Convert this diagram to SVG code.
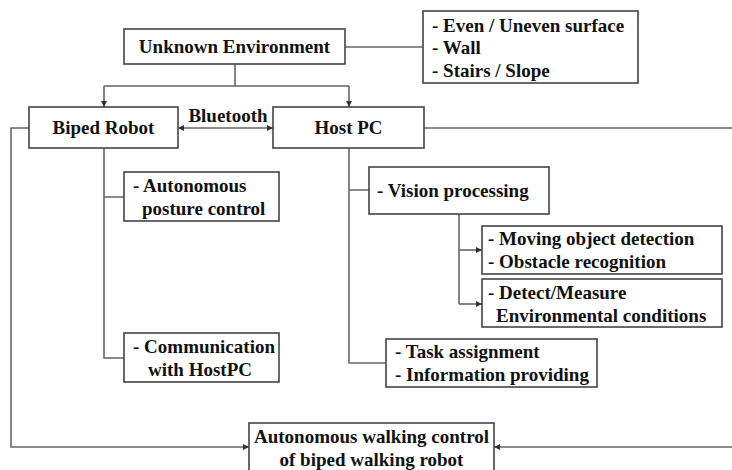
<svg xmlns="http://www.w3.org/2000/svg" width="732" height="470" viewBox="0 0 732 470">
<defs>
<marker id="arr" viewBox="0 0 8 8" refX="8" refY="4" markerWidth="6" markerHeight="6" orient="auto-start-reverse" markerUnits="userSpaceOnUse">
<path d="M0,0 L8,4 L0,8 Z" fill="#333"/>
</marker>
<style>
.box{fill:#fff;stroke:#444;stroke-width:1.6}
.ln{fill:none;stroke:#666;stroke-width:1.6}
.t{font-family:'Liberation Serif','Times New Roman','DejaVu Serif',serif;font-weight:bold;font-size:19px;fill:#111}
.c{text-anchor:middle}
</style>
</defs>
<rect width="732" height="470" fill="#fff"/>
<g id="connectors">
<path class="ln" d="M345,47 H423"/>
<path class="ln" d="M235,64 V86 M104,86 H349"/>
<path class="ln" d="M104,86 V107" marker-end="url(#arr)"/>
<path class="ln" d="M349,86 V107" marker-end="url(#arr)"/>
<path class="ln" d="M178,128 H273" marker-start="url(#arr)" marker-end="url(#arr)"/>
<path class="ln" d="M424,128 H732"/>
<path class="ln" d="M29,128 H11 V447 H249" marker-end="url(#arr)"/>
<path class="ln" d="M732,447 H494" marker-end="url(#arr)"/>
<path class="ln" d="M104,148 V358 H124 M104,197 H124"/>
<path class="ln" d="M349,148 V363 H386 M349,190 H369"/>
<path class="ln" d="M459,214 V304"/>
<path class="ln" d="M459,250 H482" marker-end="url(#arr)"/>
<path class="ln" d="M459,304 H482" marker-end="url(#arr)"/>
</g>
<g id="unknown-env" class="t">
<rect class="box" x="124" y="29" width="221" height="35"/>
<text class="c" x="234.5" y="53">Unknown Environment</text>
</g>
<g id="env-types" class="t">
<rect class="box" x="423" y="11" width="215" height="72"/>
<text x="432" y="32">- Even / Uneven surface</text>
<text x="432" y="54">- Wall</text>
<text x="432" y="77">- Stairs / Slope</text>
</g>
<g id="bluetooth-label" class="t">
<text class="c" x="228" y="122">Bluetooth</text>
</g>
<g id="biped-robot" class="t">
<rect class="box" x="29" y="107" width="149" height="41"/>
<text class="c" x="103.5" y="134">Biped Robot</text>
</g>
<g id="host-pc" class="t">
<rect class="box" x="273" y="107" width="151" height="41"/>
<text class="c" x="348.5" y="134">Host PC</text>
</g>
<g id="posture-control" class="t">
<rect class="box" x="124" y="172" width="155" height="49"/>
<text x="133" y="192">- Autonomous</text>
<text x="142" y="215">posture control</text>
</g>
<g id="communication" class="t">
<rect class="box" x="124" y="333" width="155" height="49"/>
<text x="133" y="353">- Communication</text>
<text x="148" y="376">with HostPC</text>
</g>
<g id="vision" class="t">
<rect class="box" x="369" y="167" width="180" height="47"/>
<text x="377" y="197">- Vision processing</text>
</g>
<g id="moving-object" class="t">
<rect class="box" x="482" y="226" width="240" height="48"/>
<text x="488" y="245">- Moving object detection</text>
<text x="488" y="268">- Obstacle recognition</text>
</g>
<g id="detect-measure" class="t">
<rect class="box" x="482" y="279" width="240" height="48"/>
<text x="488" y="299">- Detect/Measure</text>
<text x="496" y="322">Environmental conditions</text>
</g>
<g id="task" class="t">
<rect class="box" x="386" y="339" width="211" height="48"/>
<text x="395" y="358">- Task assignment</text>
<text x="395" y="381">- Information providing</text>
</g>
<g id="walking-control" class="t">
<rect class="box" x="249" y="423" width="245" height="60"/>
<text class="c" x="371.5" y="443">Autonomous walking control</text>
<text class="c" x="371.5" y="466">of biped walking robot</text>
</g>
</svg>
